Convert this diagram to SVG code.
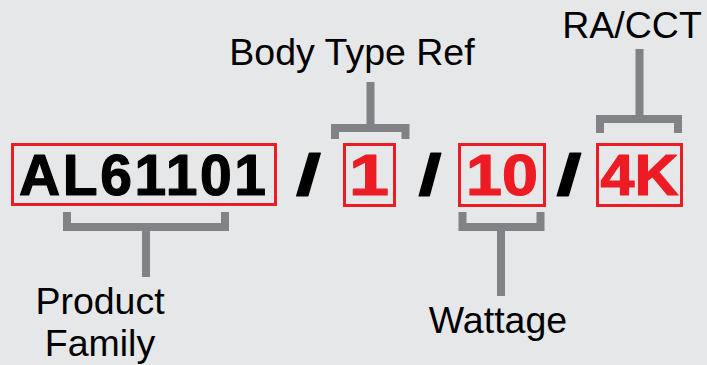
<svg xmlns="http://www.w3.org/2000/svg" width="707" height="365" viewBox="0 0 707 365">
<style>
.bg{fill:#e6e7e8}
.box{fill:none;stroke:#ed1c24;stroke-width:3}
.code{font-family:"Liberation Sans",Arial,sans-serif;font-weight:bold;font-size:57px;stroke-width:1.2;stroke-linejoin:round}
.blk{fill:#000;stroke:#000}
.red{fill:#ed1c24;stroke:#ed1c24}
.lbl{font-family:"Liberation Sans",Arial,sans-serif;font-size:37.5px;fill:#000;text-anchor:middle}
.br{fill:none;stroke:#818286;stroke-width:8;stroke-linejoin:miter;stroke-linecap:butt}
</style>
<rect class="bg" x="0" y="0" width="707" height="365"/>
<g id="connectors">
<path class="br" d="M67,212 V227 H225 V212 M146,227 V277"/>
<path class="br" d="M462.5,212 V227 H540.5 V212 M501,227 V296"/>
<path class="br" d="M335,139 V128 H405.5 V139 M370.5,82 V128"/>
<path class="br" d="M600,133 V119 H678 V133 M639.5,49 V119"/>
</g>
<g id="product-code">
<rect class="box" x="12.5" y="144.5" width="263" height="60"/>
<text class="code blk" x="19" y="195" letter-spacing="2.6">AL61101</text>
</g>
<g id="slashes">
<text class="code blk" x="308.5" y="195" text-anchor="middle" textLength="25" lengthAdjust="spacingAndGlyphs">/</text>
<text class="code blk" x="430" y="195" text-anchor="middle" textLength="23" lengthAdjust="spacingAndGlyphs">/</text>
<text class="code blk" x="569" y="195" text-anchor="middle" textLength="25" lengthAdjust="spacingAndGlyphs">/</text>
</g>
<g id="body-type">
<rect class="box" x="344.5" y="144.5" width="50" height="61"/>
<text class="code red" x="369" y="195" text-anchor="middle" textLength="40" lengthAdjust="spacingAndGlyphs">1</text>
</g>
<g id="wattage-code">
<rect class="box" x="459.5" y="144.5" width="85" height="61"/>
<text class="code red" x="502" y="195" text-anchor="middle" textLength="72" lengthAdjust="spacingAndGlyphs">10</text>
</g>
<g id="cct-code">
<rect class="box" x="597.5" y="144.5" width="84" height="61"/>
<text class="code red" x="639.5" y="195" text-anchor="middle" textLength="78" lengthAdjust="spacingAndGlyphs">4K</text>
</g>
<g id="label-body-type"><text class="lbl" x="352" y="65">Body Type Ref</text></g>
<g id="label-ra-cct"><text class="lbl" x="632" y="38">RA/CCT</text></g>
<g id="label-product-family"><text class="lbl" x="100" y="314">Product</text><text class="lbl" x="100" y="356">Family</text></g>
<g id="label-wattage"><text class="lbl" x="498" y="333">Wattage</text></g>
</svg>
